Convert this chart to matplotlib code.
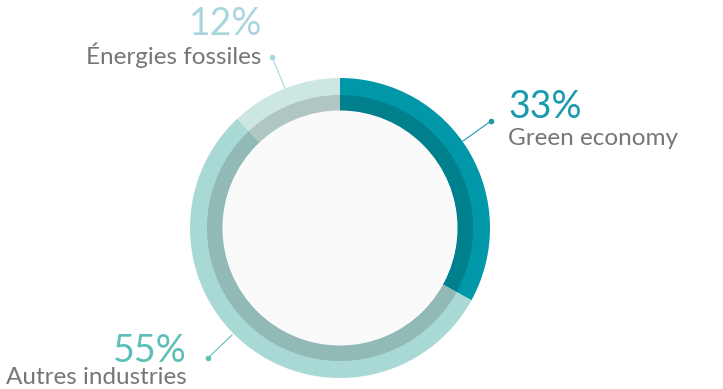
import matplotlib.pyplot as plt

# données
labels = ['Green economy', 'Autres industries', 'Énergies fossiles']
values = [33, 55, 12]
pct_labels = ['33%', '55%', '12%']
outer_colors = ['#0097a9', '#a9d9d5', '#cce7e3']
inner_colors = ['#00808c', '#91b9b6', '#b0c6c3']
pct_colors = ['#1a9aae', '#5cbfb8', '#a9d6de']

W, H = 723, 389
cx, cy = 340, H - 228

fig = plt.figure(figsize=(W / 100, H / 100), dpi=100)
ax = fig.add_axes([0, 0, 1, 1])
ax.set_xlim(0, W)
ax.set_ylim(0, H)
ax.set_aspect('equal')
ax.axis('off')

# anneau extérieur
ax.pie(values, colors=outer_colors, radius=150, center=(cx, cy),
       startangle=90, counterclock=False,
       wedgeprops=dict(width=18, linewidth=0))
# anneau intérieur
ax.pie(values, colors=inner_colors, radius=133, center=(cx, cy),
       startangle=90, counterclock=False,
       wedgeprops=dict(width=16, linewidth=0))
# centre
ax.add_patch(plt.Circle((cx, cy), 117.5, color='#fafafa', lw=0))
ax.set_xlim(0, W)
ax.set_ylim(0, H)

font = 'Lato'
gray = '#767676'
pct_size = 27
lab_size = 17.5

# étiquettes (x, y en pixels depuis le haut)
# Green economy
ax.text(508, H - 107, pct_labels[0], fontsize=pct_size, color=pct_colors[0],
        family=font, weight='normal', va='center', ha='left')
ax.text(508, H - 138, labels[0], fontsize=lab_size, color=gray,
        family=font, weight='normal', va='center', ha='left')
ax.plot([463, 491], [H - 141, H - 121], color=pct_colors[0], lw=0.8)
ax.plot([491], [H - 121], 'o', color=pct_colors[0], ms=3)

# Autres industries
ax.text(187, H - 351, pct_labels[1], fontsize=pct_size, color=pct_colors[1],
        family=font, weight='normal', va='center', ha='right')
ax.text(187, H - 378, labels[1], fontsize=lab_size, color=gray,
        family=font, weight='normal', va='center', ha='right')
ax.plot([208, 232], [H - 358, H - 335], color=pct_colors[1], lw=0.8)
ax.plot([208], [H - 358], 'o', color=pct_colors[1], ms=3)

# Énergies fossiles
ax.text(262, H - 24, pct_labels[2], fontsize=pct_size, color=pct_colors[2],
        family=font, weight='normal', va='center', ha='right')
ax.text(261, H - 55, labels[2], fontsize=lab_size, color=gray,
        family=font, weight='normal', va='center', ha='right')
ax.plot([272, 285], [H - 57, H - 88], color=pct_colors[2], lw=0.8)
ax.plot([272], [H - 57], 'o', color=pct_colors[2], ms=3)

fig.savefig('out.png', dpi=100)
